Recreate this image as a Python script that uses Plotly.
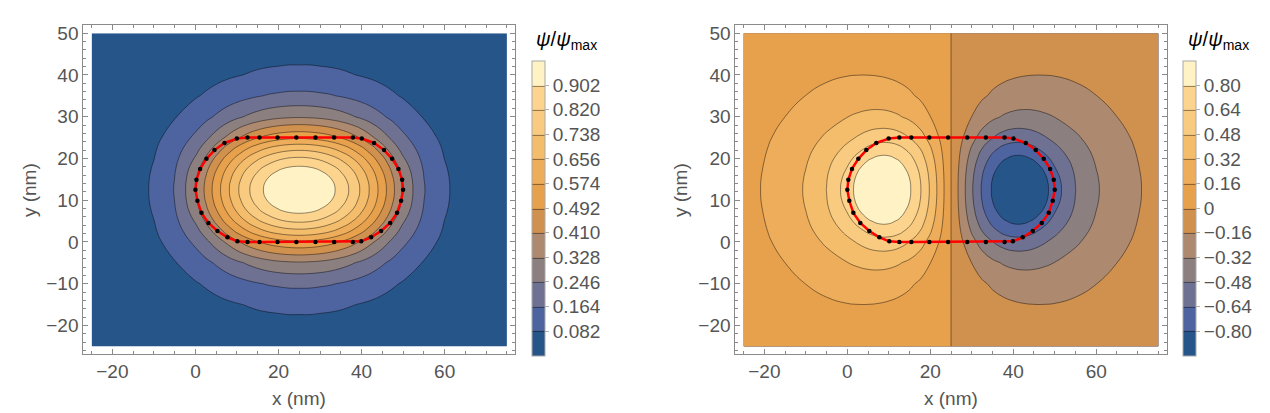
import numpy as np
import plotly.graph_objects as go

# grid nodes (nm)
x_nm = [-25, -20, -15, -10, -5, 0, 2.5, 5, 7.5, 10, 12.5, 15, 17.5, 20, 22.5, 25,
        27.5, 30, 32.5, 35, 37.5, 40, 42.5, 45, 47.5, 50, 55, 60, 65, 70, 75]
y_nm = [-25, -20, -15, -10, -5, 0, 2.5, 5, 7.5, 10, 12.5, 15, 17.5, 20, 22.5, 25, 30, 35, 40, 45, 50]

# psi/psi_max (per mille), one quarter of each map.
# rows: y = 12.5 .. 50 (upper half of y_nm)
# ground state columns: x = 25 .. 75 (the map is mirror symmetric about x = 25 and y = 12.5)
ground_q = [
    [1000, 992, 966, 927, 872, 804, 724, 631, 533, 429, 316, 168, 92, 52, 29, 17],
    [981, 973, 948, 909, 855, 788, 709, 618, 521, 418, 309, 165, 91, 51, 29, 17],
    [925, 917, 894, 857, 806, 742, 666, 580, 486, 387, 288, 157, 87, 49, 28, 16],
    [833, 826, 806, 772, 726, 667, 597, 518, 430, 337, 254, 143, 81, 46, 26, 15],
    [710, 704, 687, 658, 618, 567, 506, 435, 356, 280, 216, 127, 74, 42, 25, 14],
    [560, 555, 541, 519, 487, 446, 396, 339, 281, 227, 180, 110, 65, 38, 22, 13],
    [318, 315, 308, 295, 277, 255, 230, 202, 173, 145, 119, 78, 49, 30, 18, 11],
    [181, 180, 175, 169, 159, 147, 134, 120, 105, 90, 76, 52, 34, 22, 14, 8],
    [103, 103, 100, 97, 92, 85, 78, 71, 63, 55, 47, 34, 23, 15, 10, 6],
    [59, 59, 57, 55, 53, 49, 46, 42, 37, 33, 29, 21, 15, 10, 7, 4],
    [33, 33, 33, 32, 30, 28, 26, 24, 22, 20, 17, 13, 10, 7, 5, 3],
]
# first excited state columns: x = -25 .. 25 (odd about x = 25, even about y = 12.5)
excited_q = [
    [120, 169, 237, 335, 482, 717, 856, 953, 1000, 993, 932, 818, 658, 461, 237, 0],
    [119, 168, 235, 331, 474, 700, 837, 933, 980, 975, 915, 803, 646, 452, 233, 0],
    [117, 164, 229, 320, 453, 652, 782, 875, 923, 919, 864, 759, 611, 428, 220, 0],
    [113, 159, 219, 303, 421, 586, 691, 782, 830, 830, 781, 687, 554, 388, 200, 0],
    [109, 151, 207, 282, 382, 513, 587, 660, 708, 712, 672, 592, 477, 334, 172, 0],
    [103, 142, 192, 258, 341, 441, 492, 538, 567, 571, 540, 476, 383, 269, 138, 0],
    [90, 121, 160, 208, 262, 317, 340, 357, 363, 355, 330, 288, 231, 161, 83, 0],
    [75, 100, 128, 161, 194, 223, 233, 238, 236, 226, 207, 179, 142, 99, 51, 0],
    [61, 79, 99, 121, 141, 156, 159, 159, 155, 146, 132, 113, 89, 62, 32, 0],
    [47, 60, 74, 88, 100, 107, 108, 106, 102, 95, 85, 72, 57, 39, 20, 0],
    [35, 44, 53, 62, 68, 72, 72, 70, 67, 61, 55, 46, 36, 25, 13, 0],
]

# contour levels / colour bar labels
left_levels = [0.082, 0.164, 0.246, 0.328, 0.410, 0.492, 0.574, 0.656, 0.738, 0.820, 0.902]
left_labels = ['0.082', '0.164', '0.246', '0.328', '0.410', '0.492', '0.574', '0.656', '0.738', '0.820', '0.902']
right_levels = [-0.80, -0.64, -0.48, -0.32, -0.16, 0, 0.16, 0.32, 0.48, 0.64, 0.80]
right_labels = ['\u22120.80', '\u22120.64', '\u22120.48', '\u22120.32', '\u22120.16', '0',
                '0.16', '0.32', '0.48', '0.64', '0.80']

# boundary mesh points of the dot
dot_x = [9.96, 6.99, 4.58, 2.65, 1.12, 0.24, 0.0, 0.48, 1.45, 3.13, 5.3, 7.71, 10.1,
         12.53, 15.42, 19.76, 24.3, 28.9, 33.4, 37.9,
         39.9, 42.29, 44.7, 46.87, 48.55, 49.52, 50.0, 49.76, 48.88, 47.35, 45.42, 43.01, 40.04,
         37.9, 33.4, 28.9, 24.3, 19.76, 15.42, 12.53]
dot_y = [24.76, 23.7, 22.0, 19.9, 17.5, 14.9, 12.5, 9.86, 6.97, 4.57, 2.64, 1.12, 0.16,
         0, 0, 0, 0, 0, 0, 0,
         0.16, 1.12, 2.64, 4.57, 6.97, 9.86, 12.5, 14.9, 17.5, 19.9, 22.0, 23.7, 24.76,
         25, 25, 25, 25, 25, 25, 25]

band_colors = ['#265689', '#4E64A1', '#6E7191', '#8C7F7F', '#AD896F', '#D0914F',
               '#E7A04C', '#EDAD5B', '#F3BD6C', '#F9CB80', '#FCD48D', '#FFF2C4']
colorscale = [[i / 11, c] for i, c in enumerate(band_colors)]
font = 'Liberation Sans'
grey = '#555555'

# full grids from the quarters
q = np.array(ground_q) / 1000
half = np.hstack([q[:, :0:-1], q])
z_ground = np.vstack([half[:0:-1], half])
q = np.array(excited_q) / 1000
half = np.hstack([q, -q[:, -2::-1]])
z_excited = np.vstack([half[:0:-1], half])


def panel(z, zmin, zmax, start, end, size, xa, ya, cbx, tv, tt):
    return go.Contour(
        x=x_nm, y=y_nm, z=z, xaxis=xa, yaxis=ya, zmin=zmin, zmax=zmax,
        colorscale=colorscale,
        contours=dict(start=start, end=end, size=size, coloring='fill', showlines=True),
        line=dict(color='rgba(0,0,0,0.55)', width=0.8, smoothing=1.3),
        colorbar=dict(x=cbx, xanchor='left', xpad=0, ypad=0, y=0.159, yanchor='bottom',
                      len=295, lenmode='pixels', thickness=13,
                      outlinecolor='#a8a8a8', outlinewidth=1,
                      tickmode='array', tickvals=tv, ticktext=tt,
                      ticks='outside', ticklen=4, tickcolor='#b0b0b0',
                      tickfont=dict(size=19, color=grey, family=font)),
        hoverinfo='skip')


fig = go.Figure()
fig.add_trace(panel(z_ground, 0, 0.984, 0.082, 0.905, 0.082, 'x', 'y', 0.4128, left_levels, left_labels))
fig.add_trace(panel(z_excited, -0.96, 0.96, -0.80, 0.805, 0.16, 'x2', 'y2', 0.9254, right_levels, right_labels))
for xa, ya in [('x', 'y'), ('x2', 'y2')]:
    # outline of the dot and its mesh points
    fig.add_trace(go.Scatter(x=dot_x + dot_x[:1], y=dot_y + dot_y[:1], mode='lines',
                             line=dict(color='#ff0000', width=2.5), xaxis=xa, yaxis=ya,
                             showlegend=False, hoverinfo='skip'))
    fig.add_trace(go.Scatter(x=dot_x, y=dot_y, mode='markers',
                             marker=dict(color='black', size=4.5), xaxis=xa, yaxis=ya,
                             showlegend=False, hoverinfo='skip'))

ax = dict(showline=True, linecolor='#8a8a8a', linewidth=1, mirror='ticks', ticks='inside',
          ticklen=5, tickcolor='#8a8a8a', showgrid=False, zeroline=False,
          tickfont=dict(size=19, color=grey, family=font))
xax = dict(ax, range=[-27, 77], dtick=20, tick0=0,
           minor=dict(dtick=5, tick0=0, ticks='inside', ticklen=3, tickcolor='#8a8a8a'))
yax = dict(ax, range=[-26.9, 51.9], dtick=10, tick0=0, domain=[0.1622, 0.963],
           minor=dict(dtick=2, tick0=0, ticks='inside', ticklen=3, tickcolor='#8a8a8a'))

fig.update_layout(
    width=1270, height=413, autosize=False,
    margin=dict(l=0, r=0, t=0, b=0),
    paper_bgcolor='white', plot_bgcolor='white',
    xaxis=dict(xax, domain=[0.0593, 0.3994], anchor='y'),
    yaxis=dict(yax, anchor='x'),
    xaxis2=dict(xax, domain=[0.5727, 0.9124], anchor='y2'),
    yaxis2=dict(yax, anchor='x2'),
    showlegend=False,
)

for cx, tx, yx in [(291, 526, 21), (943, 1178, 672)]:
    fig.add_annotation(x=cx / 1270, y=1 - 390 / 413, xref='paper', yref='paper',
                       text='x (nm)', showarrow=False, xanchor='center', yanchor='middle',
                       font=dict(size=19, color=grey, family=font))
    fig.add_annotation(x=yx / 1270, y=1 - 181 / 413, xref='paper', yref='paper',
                       text='y (nm)', showarrow=False, textangle=-90,
                       xanchor='center', yanchor='middle',
                       font=dict(size=19, color=grey, family=font))
    fig.add_annotation(x=tx / 1270, y=1 - 31 / 413, xref='paper', yref='paper',
                       text='<i>\u03c8</i>/<i>\u03c8</i><sub>max</sub>', showarrow=False,
                       xanchor='left', yanchor='middle',
                       font=dict(size=20, color='black', family=font))

fig.write_html("out.html")
